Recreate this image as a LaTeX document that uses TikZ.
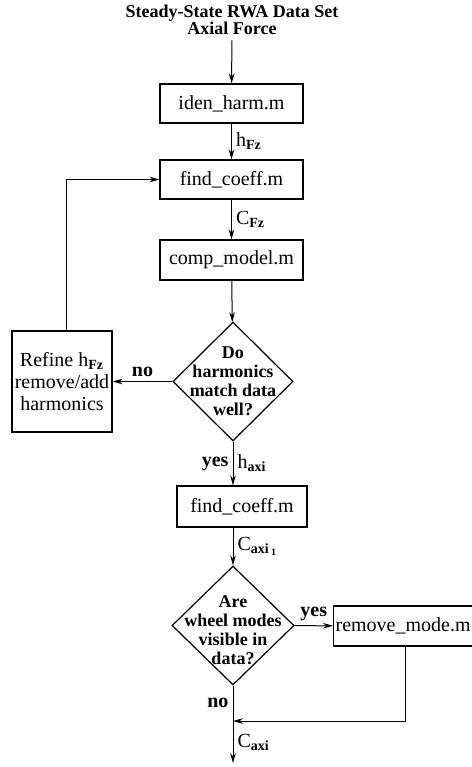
\documentclass[tikz,border=0pt]{standalone}
\usepackage{fontspec}
\setmainfont{Liberation Serif}
\usetikzlibrary{arrows.meta,positioning,shapes.geometric,calc}
\tikzset{
  >={Stealth[length=5pt,width=2.8pt]},
  proc box/.style={
    draw,
    line width=0.6pt,
    minimum width=71.5pt,
    minimum height=19.5pt,
    inner sep=0pt,
    font=\fontsize{10}{11}\selectfont
  },
  decision/.style={
    draw,
    shape=diamond,
    line width=0.6pt,
    inner sep=0pt,
    minimum width=60pt,
    minimum height=59.5pt
  },
  decision text/.style={
    align=center,
    inner sep=0pt,
    font=\bfseries\fontsize{9}{9.5}\selectfont
  },
  title/.style={
    align=center,
    inner sep=2.5pt,
    font=\bfseries\fontsize{9}{8.5}\selectfont
  },
  branch/.style={font=\bfseries\fontsize{10}{11}\selectfont, inner sep=2pt},
  flow label/.style={font=\fontsize{10}{11}\selectfont, inner sep=2pt}
}

\begin{document}
\begin{tikzpicture}[x=0.5pt,y=-0.5pt,line width=0.5pt]
    \useasboundingbox (0,0) rectangle (472,767);
    \path{
      node[title] (src) at (232,20) {Steady-State RWA Data Set\\Axial Force}
      node[proc box] (iden) at (231.5,103.5) {iden\_harm.m}
      node[proc box] (fc1) at (231.5,179.5) {find\_coeff.m}
      node[proc box,minimum height=20pt] (cm) at (231.5,260) {comp\_model.m}
      node[decision,label={[decision text]center:{Do\\harmonics\\match data\\well?}}] (d1) at (233,381.5) {}
      node[proc box,minimum width=50pt,minimum height=50.5pt,align=center,
           font=\fontsize{10}{10.8}\selectfont] (refine) at (62,381.5)
           {Refine h\textsubscript{\bfseries Fz}\\remove/add\\harmonics}
      node[proc box,minimum width=65pt,minimum height=20.5pt] (fc2) at (242,506.5) {find\_coeff.m}
      node[decision,minimum width=61pt,
           label={[decision text,yshift=-2.5pt]center:{Are\\wheel modes\\visible in\\data?}}] (d2) at (233,625.5) {}
      node[proc box,anchor=west,minimum height=20pt,text width=70pt,align=left,
           inner xsep=1pt] (rm) at (333,626) {remove\_mode.m}
    };
    \coordinate (join) at (233,721);
    \coordinate (sink) at (233,763);

    \path[->,draw]{
      (src) edge (iden)
      (iden) edge node[flow label,right]{h\textsubscript{\bfseries Fz}} (fc1)
      (fc1) edge node[flow label,right]{C\textsubscript{\bfseries Fz}} (cm)
      (cm) edge (d1)
      (d1) edge node[branch,above]{no} (refine)
      (d2) edge node[branch,above]{yes} (rm)
    };

    % find_coeff.m below sits a little off the column
    \draw[->] (d1.south) -- node[branch,left]{yes}
      node[flow label,right]{h\textsubscript{\bfseries axi}} (d1.south |- fc2.north);
    \draw[->] (d2.north |- fc2.south) --
      node[flow label,right]{C\textsubscript{\bfseries axi\,\textsubscript{1}}} (d2.north);

    \draw[->] ([xshift=2pt]refine.north) |- (fc1.west);
    \draw (d2.south) -- node[branch,left]{no} (join);
    \draw[->] (rm.south) |- (join);
    \draw[->] (join) -- node[flow label,right]{C\textsubscript{\bfseries axi}} (sink);
  \end{tikzpicture}
\end{document}
